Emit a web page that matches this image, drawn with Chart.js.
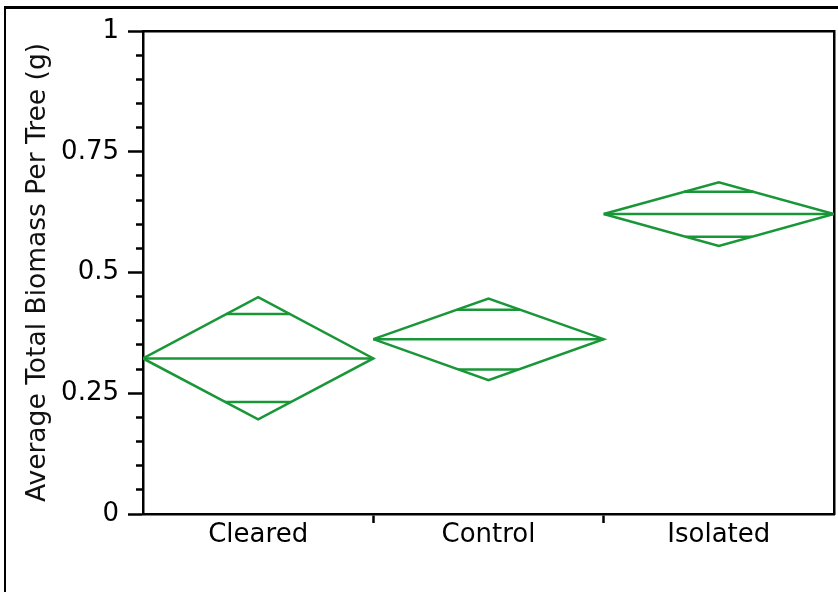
<!DOCTYPE html>
<html>
<head>
<meta charset="utf-8">
<script src="https://cdn.jsdelivr.net/npm/chart.js@4"></script>
<style>
  html, body { margin: 0; padding: 0; background: #fff; }
  #wrap { position: relative; width: 838px; height: 592px; }
  #frame { position: absolute; left: 4px; top: 6px; right: -4px; bottom: -4px;
           border-left: 2px solid #000; border-top: 3px solid #000; pointer-events: none; }
</style>
</head>
<body>
<div id="wrap">
  <canvas id="chart" width="838" height="592"></canvas>
  <div id="frame"></div>
</div>
<script>
// Means diamonds
const categories = ["Cleared", "Control", "Isolated"];
const means = [0.322, 0.362, 0.621];
const ciUpper = [0.449, 0.446, 0.687];
const ciLower = [0.196, 0.277, 0.555];
const overlapUpper = [0.414, 0.423, 0.667];
const overlapLower = [0.232, 0.299, 0.574];

const yMajorTicks = [0, 0.25, 0.5, 0.75, 1];
const yTickLabels = ["0", "0.25", "0.5", "0.75", "1"];

const green = "rgb(25,150,55)";
const font = "'DejaVu Sans', Roboto, sans-serif";

// Build line datasets: diamond outline, mean line, overlap marks
const datasets = [];
categories.forEach((cat, i) => {
  const m = means[i];
  const mid = i + 0.5;
  datasets.push({
    label: cat + " diamond",
    data: [
      { x: i, y: m },
      { x: mid, y: ciUpper[i] },
      { x: i + 1, y: m },
      { x: mid, y: ciLower[i] },
      { x: i, y: m },
    ],
  });
  datasets.push({
    label: cat + " mean",
    data: [{ x: i, y: m }, { x: i + 1, y: m }],
  });
  // overlap marks stretch between the two diamond edges at their height
  const hu = 0.5 * (1 - (overlapUpper[i] - m) / (ciUpper[i] - m));
  const hl = 0.5 * (1 - (m - overlapLower[i]) / (m - ciLower[i]));
  datasets.push({
    label: cat + " upper overlap",
    data: [{ x: mid - hu, y: overlapUpper[i] }, { x: mid + hu, y: overlapUpper[i] }],
  });
  datasets.push({
    label: cat + " lower overlap",
    data: [{ x: mid - hl, y: overlapLower[i] }, { x: mid + hl, y: overlapLower[i] }],
  });
});
datasets.forEach((d) => {
  d.borderColor = green;
  d.borderWidth = 2.5;
  d.pointRadius = 0;
  d.fill = false;
  d.tension = 0;
});

const isMajor = (v) => yMajorTicks.some((t) => Math.abs(t - v) < 1e-9);

new Chart(document.getElementById("chart"), {
  type: "line",
  data: { datasets },
  options: {
    responsive: false,
    animation: false,
    layout: { padding: { left: 0, top: 31, right: 4, bottom: 0 } },
    plugins: { legend: { display: false }, tooltip: { enabled: false } },
    scales: {
      x: {
        type: "linear",
        min: 0,
        max: categories.length,
        afterBuildTicks: (scale) => {
          const t = [];
          for (let k = 0; k <= categories.length * 2; k++) t.push({ value: k / 2 });
          scale.ticks = t;
        },
        afterFit: (scale) => { scale.height = 78; },
        ticks: {
          autoSkip: false,
          maxRotation: 0,
          padding: -3,
          color: "#000",
          font: { family: font, size: 26 },
          callback: (v) => (Math.abs(v % 1 - 0.5) < 1e-9 ? categories[Math.floor(v)] : ""),
        },
        grid: {
          drawOnChartArea: false,
          tickLength: 9,
          tickWidth: 2.5,
          tickColor: (ctx) => {
            const v = ctx.tick ? ctx.tick.value : 0;
            return v > 0 && v < categories.length && Math.abs(v % 1) < 1e-9 ? "#000" : "rgba(0,0,0,0)";
          },
        },
        border: { color: "#000", width: 2.5 },
      },
      y: {
        type: "linear",
        min: 0,
        max: 1,
        afterBuildTicks: (scale) => {
          const t = [];
          for (let k = 0; k <= 20; k++) t.push({ value: k / 20 });
          scale.ticks = t;
        },
        afterFit: (scale) => { scale.width = 143; },
        ticks: {
          autoSkip: false,
          padding: 9,
          color: "#000",
          font: { family: font, size: 26 },
          callback: (v) => {
            const idx = yMajorTicks.findIndex((t) => Math.abs(t - v) < 1e-9);
            return idx >= 0 ? yTickLabels[idx] : "";
          },
        },
        grid: {
          drawOnChartArea: false,
          tickLength: 15,
          tickWidth: 2.5,
          tickColor: "#000",
          tickBorderDash: (ctx) => (ctx.tick && isMajor(ctx.tick.value) ? [] : [0, 8, 20, 0]),
        },
        border: { color: "#000", width: 2.5 },
        title: {
          display: true,
          text: "Average Total Biomass Per Tree (g)",
          color: "#111",
          font: { family: font, size: 26.5 },
          padding: { top: 22, bottom: 0 },
        },
      },
      xTop: {
        type: "linear",
        position: "top",
        min: 0,
        max: 1,
        afterFit: (scale) => { scale.height = 0; },
        ticks: { display: false },
        grid: { drawOnChartArea: false, drawTicks: false },
        border: { color: "#000", width: 2.5 },
      },
      yRight: {
        type: "linear",
        position: "right",
        min: 0,
        max: 1,
        afterFit: (scale) => { scale.width = 0; },
        ticks: { display: false },
        grid: { drawOnChartArea: false, drawTicks: false },
        border: { color: "#000", width: 2.5 },
      },
    },
  },
});
</script>
</body>
</html>
